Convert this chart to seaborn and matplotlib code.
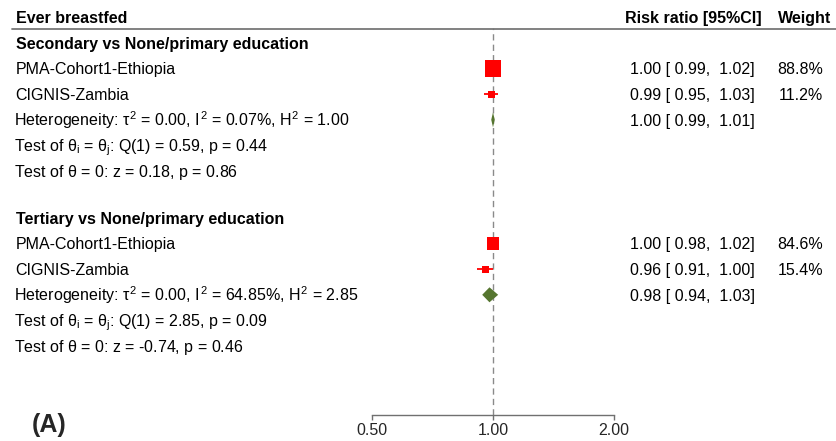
import numpy as np
import pandas as pd
import matplotlib
matplotlib.use("Agg")
import matplotlib.pyplot as plt
import matplotlib.transforms as mtransforms
from matplotlib.lines import Line2D
import seaborn as sns

# ---- data ----
studies = ["PMA-Cohort1-Ethiopia", "CIGNIS-Zambia"]
groups = ["Secondary vs None/primary education", "Tertiary vs None/primary education"]

sec_rr = [1.00, 0.99]
sec_lo = [0.99, 0.95]
sec_hi = [1.02, 1.03]
sec_w = [88.8, 11.2]
sec_pooled = [1.00, 0.99, 1.01]
sec_het = [0.00, 0.07, 1.00]   # tau2, I2, H2
sec_q = [0.59, 0.44]           # Q(1), p
sec_z = [0.18, 0.86]           # z, p

tert_rr = [1.00, 0.96]
tert_lo = [0.98, 0.91]
tert_hi = [1.02, 1.00]
tert_w = [84.6, 15.4]
tert_pooled = [0.98, 0.94, 1.03]
tert_het = [0.00, 64.85, 2.85]
tert_q = [2.85, 0.09]
tert_z = [-0.74, 0.46]

xticks = [0.5, 1.0, 2.0]
xticklabels = ["0.50", "1.00", "2.00"]

sns.set_theme(style="white")
plt.rcParams["font.family"] = ["Liberation Sans", "DejaVu Sans"]
plt.rcParams["mathtext.fontset"] = "custom"
plt.rcParams["mathtext.rm"] = "Liberation Sans"
plt.rcParams["mathtext.it"] = "Liberation Sans"
plt.rcParams["mathtext.bf"] = "Liberation Sans:bold"

W, H = 836, 441
fig = plt.figure(figsize=(W / 100, H / 100), dpi=100)
# axes spans the x-range 0.5..2 (px 372..614) and the rows (px 28..415)
ax = fig.add_axes([372 / W, 1 - 415 / H, (614 - 372) / W, (415 - 28) / H])
ax.set_xscale("log")
ax.set_xlim(0.5, 2.0)
ax.set_ylim(415, 28)   # y in pixel-like units, top down

fs = 11.5
row_h = 25.6
block_top = [43, 218]

pooled = [sec_pooled, tert_pooled]
rrs = [sec_rr, tert_rr]
los = [sec_lo, tert_lo]
his = [sec_hi, tert_hi]
ws = [sec_w, tert_w]
hets = [sec_het, tert_het]
qs = [sec_q, tert_q]
zs = [sec_z, tert_z]

rows = []
for g in range(2):
    for i, s in enumerate(studies):
        rows.append(dict(group=groups[g], study=s, rr=rrs[g][i], lo=los[g][i],
                         hi=his[g][i], w=ws[g][i], y=block_top[g] + row_h * (i + 1)))
df = pd.DataFrame(rows)
# marker side proportional to precision (1 / CI width on log scale)
side_px = 0.5 / np.log(df["hi"] / df["lo"])
side_px = side_px.clip(7, 18)
df["s"] = (side_px * 0.72) ** 2

# no-effect line
ax.axvline(1.0, color="#8a8a8a", lw=1.0, dashes=(4.5, 3), zorder=0)

# confidence intervals
ax.hlines(df["y"], df["lo"], df["hi"], color="red", lw=1.3, zorder=2)
sns.scatterplot(data=df, x="rr", y="y", marker="s", color="red", s=df["s"].values,
                linewidth=0, legend=False, ax=ax, zorder=3, clip_on=False)

# pooled diamonds
for g in range(2):
    est, lo, hi = pooled[g]
    yd = block_top[g] + row_h * 3
    ax.fill([lo, est, hi, est], [yd, yd - 7.5, yd, yd + 7.5], color="#55752f",
            lw=0, zorder=3)

# x axis
for sp in ["top", "left", "right"]:
    ax.spines[sp].set_visible(False)
ax.spines["bottom"].set_color("#707070")
ax.spines["bottom"].set_linewidth(1.0)
ax.set_xticks(xticks)
ax.set_xticklabels(xticklabels)
ax.xaxis.set_minor_locator(matplotlib.ticker.NullLocator())
ax.tick_params(axis="x", direction="out", length=3.8, width=1.0, color="#707070",
               labelsize=fs, pad=2, bottom=True)
ax.set_yticks([])
ax.set_xlabel("")
ax.set_ylabel("")

# ---- text columns ----
tr = mtransforms.blended_transform_factory(fig.transFigure, ax.transData)
base = 5.8


def put(xpx, y, s, **kw):
    ax.text(xpx / W, y + base, s, transform=tr, fontsize=fs, va="baseline",
            color="black", clip_on=False, **kw)


put(15.5, 17, "Ever breastfed", fontweight="bold")
put(625, 17, "Risk ratio [95%CI]", fontweight="bold")
put(831, 17, "Weight", fontweight="bold", ha="right")
fig.add_artist(Line2D([12 / W, 1.0], [1 - 28.5 / H] * 2, color="#777777", lw=1.3,
                      transform=fig.transFigure))

for g in range(2):
    y0 = block_top[g]
    put(15.5, y0, groups[g], fontweight="bold")
    for i, s in enumerate(studies):
        y = y0 + row_h * (i + 1)
        put(15.5, y, s)
        put(630, y, f"{rrs[g][i]:.2f} [ {los[g][i]:.2f},  {his[g][i]:.2f}]")
        put(823, y, f"{ws[g][i]:.1f}%", ha="right")
    tau2, i2, h2 = hets[g]
    put(13.5, y0 + row_h * 3,
        rf"Heterogeneity: $\tau^2$ = {tau2:.2f}, $I^2$ = {i2:.2f}%, $H^2$ = {h2:.2f}")
    est, lo, hi = pooled[g]
    put(630, y0 + row_h * 3, f"{est:.2f} [ {lo:.2f},  {hi:.2f}]")
    put(13.5, y0 + row_h * 4,
        rf"Test of $\theta_i$ = $\theta_j$: Q(1) = {qs[g][0]:.2f}, p = {qs[g][1]:.2f}")
    put(13.5, y0 + row_h * 5,
        rf"Test of $\theta$ = 0: z = {zs[g][0]:.2f}, p = {zs[g][1]:.2f}")

fig.text(32 / W, 1 - 425 / H, "(A)", fontsize=18, fontweight="bold", va="center",
         ha="left")

fig.savefig("out.png", dpi=100)
